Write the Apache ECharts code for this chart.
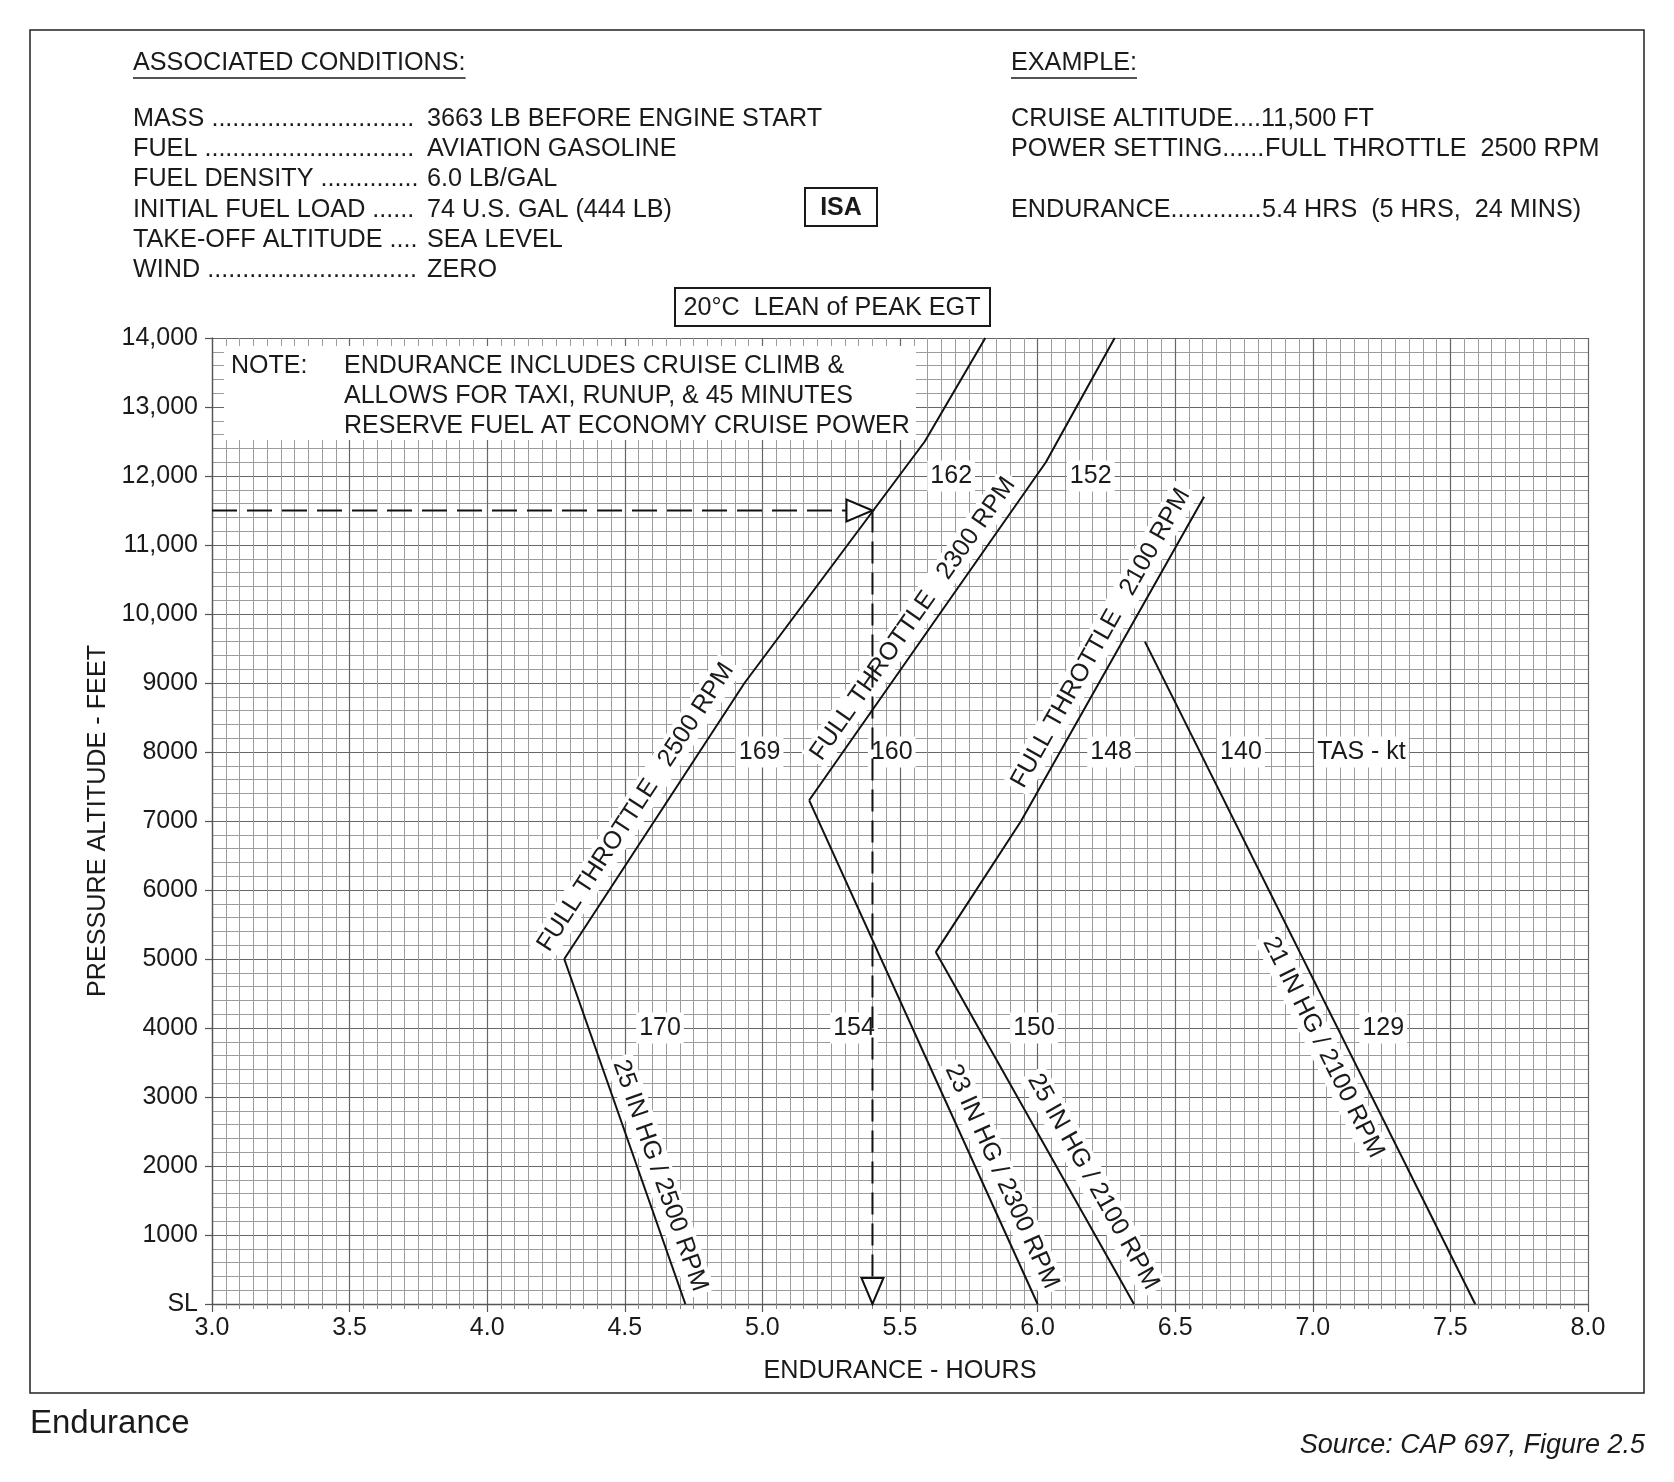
<!DOCTYPE html>
<html><head><meta charset="utf-8">
<script src="https://cdn.jsdelivr.net/npm/echarts@6/dist/echarts.min.js"></script>
<style>html,body{margin:0;padding:0;background:#fff}#chart{width:1674px;height:1482px}</style>
</head><body><div id="chart"></div>
<script>
// ---------- DATA ----------
const xTickLabels = ['3.0','3.5','4.0','4.5','5.0','5.5','6.0','6.5','7.0','7.5','8.0'];
const yTickLabels = ['SL','1000','2000','3000','4000','5000','6000','7000','8000','9000','10,000','11,000','12,000','13,000','14,000'];

// curves: [endurance hours, pressure altitude ft]
const ft2500 = [[4.28,5000],[4.935,9000],[5.59,12500],[5.81,14000]];
const mp2500 = [[4.72,0],[4.28,5000]];
const ft2300 = [[5.17,7300],[6.03,12200],[6.28,14000]];
const mp2300 = [[6.0,0],[5.17,7300]];
const ft2100 = [[5.63,5100],[5.94,7000],[6.605,11700]];
const mp2100 = [[6.35,0],[5.63,5100]];
const mp21_2100 = [[7.59,0],[6.39,9600]];

const curveLabels = [
  ['FULL THROTTLE   2500 RPM', 4.54, 7200, 'ft2500', 0],
  ['FULL THROTTLE   2300 RPM', 5.547, 9930, 'ft2300', 0],
  ['FULL THROTTLE   2100 RPM', 6.23, 9650, 'ft2100', 1],
  ['25 IN HG / 2500 RPM', 4.628, 1860, 'mp2500', 0],
  ['23 IN HG / 2300 RPM', 5.870, 1845, 'mp2300', 0],
  ['25 IN HG / 2100 RPM', 6.202, 1772, 'mp2100', 0],
  ['21 IN HG / 2100 RPM', 7.038, 3717, 'mp21_2100', 0]
];
const tasLabels = [
  ['162',5.686,12000],['152',6.193,12000],
  ['169',4.990,8000],['160',5.470,8000],['148',6.267,8000],['140',6.739,8000],['TAS - kt',7.177,8000],
  ['170',4.628,4000],['154',5.333,4000],['150',5.987,4000],['129',7.256,4000]
];
const exampleAltitude = 11500;
const exampleEndurance = 5.4;
const conditionRows = [
  ['MASS','3663 LB BEFORE ENGINE START'],
  ['FUEL','AVIATION GASOLINE'],
  ['FUEL DENSITY','6.0 LB/GAL'],
  ['INITIAL FUEL LOAD','74 U.S. GAL (444 LB)'],
  ['TAKE-OFF ALTITUDE','SEA LEVEL'],
  ['WIND','ZERO']
];
const exampleRows = [
  ['CRUISE ALTITUDE','11,500 FT'],
  ['POWER SETTING','FULL THROTTLE  2500 RPM'],
  ['ENDURANCE','5.4 HRS  (5 HRS,  24 MINS)']
];
const noteLines = ['ENDURANCE INCLUDES CRUISE CLIMB &','ALLOWS FOR TAXI, RUNUP, & 45 MINUTES','RESERVE FUEL AT ECONOMY CRUISE POWER'];

// ---------- STYLE / LAYOUT ----------
const FAM = '"Liberation Sans", Arial, Helvetica, sans-serif';
const F25 = '25px ' + FAM;
const FH = '25.2px ' + FAM;
const INK = '#1a1a1a';
const curves = {ft2500, mp2500, ft2300, mp2300, ft2100, mp2100, mp21_2100};
const arrowDirs = ['right','down'];

const mctx = document.createElement('canvas').getContext('2d');
function textW(s, font){ mctx.font = font; return mctx.measureText(s).width; }
function leader(label, x0, x1, font, sep){ let s = label + sep; while (x0 + textW(s + '.', font) <= x1) s += '.'; return s; }

function txt(x, y, text, font, align, extra){
  return Object.assign({type:'text', x:x, y:y, z:5, silent:true,
    style:{text:text, font:font||FH, fill:INK, align:align||'left', textAlign:align||'left', verticalAlign:'middle', textVerticalAlign:'middle'}}, extra||{});
}

const rowY = [119,149,179,210,240,270];
const graphics = [];
graphics.push({type:'rect', z:1, silent:true, shape:{x:30,y:30,width:1614,height:1363}, style:{fill:'none', stroke:'#222', lineWidth:1.5}});
graphics.push({type:'rect', z:2, silent:true, shape:{x:224,y:346,width:692,height:94}, style:{fill:'#fff', stroke:'none'}});
graphics.push(txt(231, 366, 'NOTE:', F25));
noteLines.forEach((l,i)=>graphics.push(txt(344, 366 + i*30, l, F25)));
// headers
graphics.push(txt(133, 63, 'ASSOCIATED CONDITIONS:'));
graphics.push({type:'line', z:5, silent:true, shape:{x1:133,y1:78,x2:133+textW('ASSOCIATED CONDITIONS:',FH),y2:78}, style:{stroke:INK, lineWidth:1.5}});
graphics.push(txt(1011, 63, 'EXAMPLE:'));
graphics.push({type:'line', z:5, silent:true, shape:{x1:1011,y1:78,x2:1011+textW('EXAMPLE:',FH),y2:78}, style:{stroke:INK, lineWidth:1.5}});
conditionRows.forEach((r,i)=>{
  graphics.push(txt(133, rowY[i], leader(r[0], 133, 421, FH, ' ')));
  graphics.push(txt(427, rowY[i], r[1]));
});
const exRowIdx = [0,1,3];
const exValueX = [1261,1265,1262];
exampleRows.forEach((r,i)=>{
  graphics.push(txt(1011, rowY[exRowIdx[i]], leader(r[0], 1011, exValueX[i] + 3, FH, '')));
  graphics.push(txt(exValueX[i], rowY[exRowIdx[i]], r[1]));
});
graphics.push({type:'rect', z:5, silent:true, shape:{x:805,y:188,width:72,height:38}, style:{fill:'#fff', stroke:INK, lineWidth:2}});
graphics.push(txt(841, 208, 'ISA', 'bold 25px ' + FAM, 'center', {z:6}));
graphics.push({type:'rect', z:5, silent:true, shape:{x:675,y:288,width:315,height:38}, style:{fill:'#fff', stroke:INK, lineWidth:2}});
graphics.push(txt(832, 308, '20°C  LEAN of PEAK EGT', FH, 'center', {z:6}));
graphics.push(txt(30, 1424, 'Endurance', '33px ' + FAM));
graphics.push(txt(1645, 1445, 'Source: CAP 697, Figure 2.5', 'italic 27px ' + FAM, 'right'));

const series = [];
Object.keys(curves).forEach(k=>{
  series.push({type:'line', name:k, data:curves[k], symbol:'none', silent:true, animation:false, z:4,
    lineStyle:{color:'#111', width:2}});
});
series.push({type:'line', name:'exampleH', data:[[3.0,exampleAltitude],[exampleEndurance,exampleAltitude]], symbol:'none', silent:true, animation:false, z:4,
  lineStyle:{color:'#111', width:2, type:[25,10]}});
series.push({type:'line', name:'exampleV', data:[[exampleEndurance,exampleAltitude],[exampleEndurance,0]], symbol:'none', silent:true, animation:false, z:4,
  lineStyle:{color:'#111', width:2, type:[22,9]}});
series.push({type:'custom', name:'arrows', z:5, silent:true, animation:false,
  data:[[exampleEndurance,exampleAltitude],[exampleEndurance,0]],
  renderItem:(params, api)=>{
    const p = api.coord([api.value(0), api.value(1)]);
    const L = 26, W = 11;
    const pts = arrowDirs[params.dataIndex]==='right'
      ? [[p[0],p[1]],[p[0]-L,p[1]-W],[p[0]-L,p[1]+W]]
      : [[p[0],p[1]],[p[0]-W,p[1]-L],[p[0]+W,p[1]-L]];
    return {type:'polygon', shape:{points:pts}, style:{fill:'#fff', stroke:'#111', lineWidth:2}};
  }});
series.push({type:'custom', name:'curveLabels', z:3, silent:true, animation:false,
  data: curveLabels.map(L=>[L[1],L[2]]),
  renderItem:(params, api)=>{
    const L = curveLabels[params.dataIndex];
    const seg = curves[L[3]];
    const a = api.coord(seg[L[4]]), b = api.coord(seg[L[4]+1]);
    let ang = Math.atan2(a[1]-b[1], b[0]-a[0]);
    if (ang > Math.PI/2) ang -= Math.PI;
    if (ang < -Math.PI/2) ang += Math.PI;
    const p = api.coord([L[1], L[2]]);
    return {type:'text', x:p[0], y:p[1], rotation:ang,
      style:{text:L[0], font:F25, fill:INK, align:'center', textAlign:'center', verticalAlign:'middle', textVerticalAlign:'middle',
        backgroundColor:'#fff', padding:[2,4]}};
  }});
series.push({type:'custom', name:'tasLabels', z:3, silent:true, animation:false,
  data: tasLabels.map(L=>[L[1],L[2]]),
  renderItem:(params, api)=>{
    const L = tasLabels[params.dataIndex];
    const p = api.coord([L[1], L[2]]);
    return {type:'text', x:p[0], y:p[1],
      style:{text:L[0], font:F25, fill:INK, align:'center', textAlign:'center', verticalAlign:'middle', textVerticalAlign:'middle',
        backgroundColor:'#fff', padding:[3,3]}};
  }});

const chart = echarts.init(document.getElementById('chart'), null, {renderer:'canvas'});
chart.setOption({
  animation:false,
  backgroundColor:'#fff',
  textStyle:{fontFamily:FAM},
  grid:{left:212, top:338, width:1376, height:966, outerBoundsMode:'none', containLabel:false},
  xAxis:{type:'value', min:3, max:8, interval:0.5,
    name:'ENDURANCE - HOURS', nameLocation:'middle', nameGap:55,
    nameTextStyle:{fontSize:25.2, color:INK, fontFamily:FAM},
    axisLine:{show:true, onZero:false, lineStyle:{color:'#555', width:1.3}},
    axisTick:{show:true, length:8, lineStyle:{color:'#555', width:1.2}},
    minorTick:{show:true, splitNumber:10, length:5, lineStyle:{color:'#888', width:1}},
    axisLabel:{fontSize:25, color:INK, margin:12, fontFamily:FAM, formatter:(v)=>xTickLabels[Math.round((v-3)/0.5)]},
    splitLine:{show:true, lineStyle:{color:'#666', width:1.2}},
    minorSplitLine:{show:true, lineStyle:{color:'#9c9c9c', width:1}}
  },
  yAxis:{type:'value', min:0, max:14000, interval:1000,
    name:'PRESSURE ALTITUDE - FEET', nameLocation:'middle', nameGap:100, nameRotate:90,
    nameTextStyle:{fontSize:25.2, color:INK, fontFamily:FAM},
    axisLine:{show:true, onZero:false, lineStyle:{color:'#555', width:1.3}},
    axisTick:{show:true, length:7, lineStyle:{color:'#555', width:1.2}},
    minorTick:{show:false, splitNumber:5},
    axisLabel:{fontSize:25, color:INK, margin:14, fontFamily:FAM, formatter:(v)=>yTickLabels[Math.round(v/1000)]},
    splitLine:{show:true, lineStyle:{color:'#666', width:1.2}},
    minorSplitLine:{show:true, lineStyle:{color:'#9c9c9c', width:1}}
  },
  graphic: graphics,
  series: series
});
</script></body></html>
